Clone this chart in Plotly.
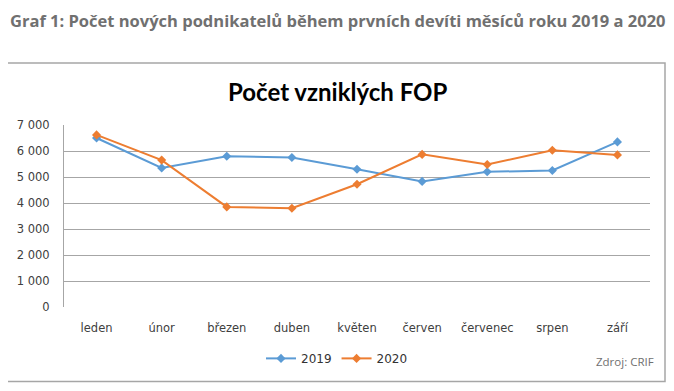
import plotly.graph_objects as go

months = ["leden", "únor", "březen", "duben", "květen", "červen", "červenec", "srpen", "září"]
v2019 = [6500, 5350, 5800, 5750, 5300, 4830, 5200, 5250, 6350]
v2020 = [6620, 5650, 3850, 3800, 4720, 5870, 5480, 6030, 5850]
y_ticks = [0, 1000, 2000, 3000, 4000, 5000, 6000, 7000]

# the page body has an 8px default margin; work in window pixels and convert
OFF = 8
W, H = 674 - OFF, 391 - OFF
# plot area in window pixels
PX0, PX1, PY0, PY1 = 64, 650, 125, 306.7
L, R, T, B = PX0 - OFF, (W + OFF) - PX1, PY0 - OFF, (H + OFF) - PY1
pw, ph = PX1 - PX0, PY1 - PY0

def px(x):
    return (x - PX0) / pw

def py(y):
    return (PY1 - y) / ph

fig = go.Figure()
fig.add_trace(go.Scatter(x=months, y=v2019, name="2019", mode="lines+markers",
                         line=dict(color="#5b9bd5", width=2),
                         marker=dict(symbol="diamond", size=7, color="#5b9bd5")))
fig.add_trace(go.Scatter(x=months, y=v2020, name="2020", mode="lines+markers",
                         line=dict(color="#ed7d31", width=2),
                         marker=dict(symbol="diamond", size=7, color="#ed7d31")))

tickfont = dict(family="DejaVu Sans", size=11.5, color="#404040")
fig.update_layout(
    width=W, height=H,
    margin=dict(l=L, r=R, t=T, b=B, autoexpand=False),
    paper_bgcolor="white", plot_bgcolor="white",
    separators=". ",
    showlegend=True,
    legend=dict(orientation="h", x=px(337), xanchor="center", y=py(358), yanchor="middle",
                font=dict(family="DejaVu Sans", size=12, color="#333333"),
                itemwidth=30, tracegroupgap=0, bgcolor="rgba(0,0,0,0)"),
    font=dict(family="DejaVu Sans", size=12, color="#404040"),
)
fig.update_xaxes(type="category", range=[-0.5, 8.5], showgrid=False, zeroline=False,
                 showline=False, ticks="", tickfont=tickfont, ticklabelstandoff=12)
fig.update_yaxes(range=[0, 7000], tickvals=y_ticks, tickformat=",d",
                 showgrid=True, gridcolor="#a6a6a6", gridwidth=1, zeroline=False,
                 showline=True, linecolor="#a6a6a6", linewidth=1, ticks="",
                 tickfont=tickfont, ticklabelstandoff=11)

# outer chart frame
fig.add_shape(type="rect", xref="paper", yref="paper",
              x0=px(6), x1=px(665), y0=py(63), y1=py(381),
              line=dict(color="#a6a6a6", width=1.5), fillcolor="rgba(0,0,0,0)", layer="below")

# page heading (box kept inside the figure's top edge)
fig.add_annotation(text="<b>Graf 1: Počet nových podnikatelů během prvních devíti měsíců roku 2019 a 2020</b>",
                   xref="paper", yref="paper", x=px(8.5), y=py(OFF), xanchor="left", yanchor="top",
                   borderpad=0, showarrow=False,
                   font=dict(family="Open Sans", size=16.5, color="#707070"))
# chart title
fig.add_annotation(text="<b>Počet vzniklých FOP</b>",
                   xref="paper", yref="paper", x=px(337.5), y=py(92), xanchor="center", yanchor="middle",
                   showarrow=False, font=dict(family="Lato", size=24, color="#000000"))
# source
fig.add_annotation(text="Zdroj: CRIF",
                   xref="paper", yref="paper", x=px(656), y=py(361), xanchor="right", yanchor="middle",
                   showarrow=False, font=dict(family="Open Sans", size=11.5, color="#707070"))

fig.write_html("out.html")
